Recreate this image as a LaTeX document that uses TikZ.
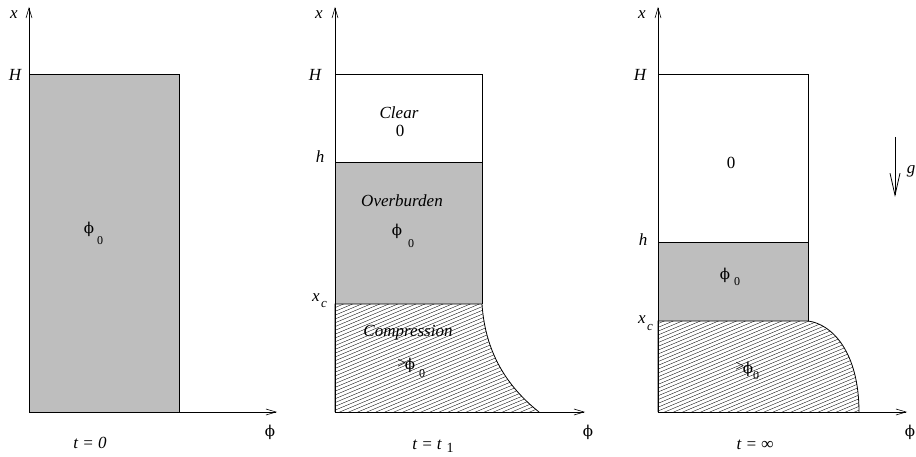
\documentclass[tikz,border=0pt]{standalone}
\usepackage{fontspec}
\setmainfont{Liberation Serif}
\newfontfamily\phifont{DejaVu Serif}
\usetikzlibrary{arrows.meta}
\definecolor{fillgray}{RGB}{190,190,190}
\tikzset{
  lab/.style={inner sep=0pt,font=\fontsize{17}{17}\selectfont\itshape},
  num/.style={inner sep=0pt,font=\fontsize{17}{17}\selectfont},
  phil/.style={inner sep=0pt,font=\fontsize{15}{15}\phifont},
  subl/.style={inner sep=0pt,font=\fontsize{12}{12}\selectfont},
  gtl/.style={inner sep=0pt,font=\fontsize{16}{16}\selectfont},
  axis/.style={line width=0.6pt,-{Straight Barb[length=10pt,width=6pt]}},
  box/.style={line width=0.8pt},
  hatch/.style={line width=0.35pt},
  grav/.style={line width=0.8pt,-{Straight Barb[length=22pt,width=10pt]}}
}
\newcommand{\hatchlines}[2]{%
  \foreach \k in {-5,...,70}{
    \draw[hatch] (#1,{#2+\k*3.8}) -- ({#1+260},{#2+\k*3.8-0.42*260});
  }}
\begin{document}
\begin{tikzpicture}[x=1pt,y=-1pt]
\useasboundingbox (0,0) rectangle (916,457);
%% ---------- panel 1 ----------
\coordinate (o1) at (29,412);
\coordinate (ya1) at (29,7);
\coordinate (xa1) at (277,412);
\coordinate (tr1) at (179,74);
\fill[fillgray] (o1) rectangle (tr1);
\draw[box] (o1) rectangle (tr1);
\draw[axis] (o1) -- (ya1);
\draw[axis] (o1) -- (xa1);
\node[lab] (x1) at (14,15) {x};
\node[lab] (H1) at (15,75) {H};
\node[phil] (p1) at (89,229) {ϕ};
\node[subl] (p1s) at (100,241) {0};
\node[phil] (f1) at (270,432) {ϕ};
\node[lab] (t1) at (90,443) {t = 0};
%% ---------- panel 2 ----------
\coordinate (o2) at (335,412);
\coordinate (ya2) at (335,7);
\coordinate (xa2) at (585,412);
\coordinate (xc2) at (335,304);
\coordinate (xcr2) at (482,304);
\coordinate (h2) at (335,162);
\coordinate (hr2) at (482,162);
\coordinate (Hr2) at (482,74);
\coordinate (Hl2) at (335,74);
\coordinate (cb2) at (539,412);
\fill[fillgray] (xc2) rectangle (hr2);
\begin{scope}
  \clip (o2) -- (xc2) -- (xcr2) .. controls (485,350) and (505,385) .. (cb2) -- cycle;
  \hatchlines{335}{300}
\end{scope}
\draw[box] (o2) -- (xc2) -- (xcr2) .. controls (485,350) and (505,385) .. (cb2);
\draw[box] (xc2) -- (Hl2) -- (Hr2) -- (xcr2);
\draw[box] (h2) -- (hr2);
\draw[axis] (o2) -- (ya2);
\draw[axis] (o2) -- (xa2);
\node[lab] (x2) at (319,15) {x};
\node[lab] (H2) at (315,75) {H};
\node[lab] (hl2) at (320,157) {h};
\node[lab] (xcl2) at (316,298) {x};
\node[lab,font=\fontsize{13}{13}\selectfont\itshape] (xcs2) at (324,305) {c};
\node[lab] (clear) at (399,113) {Clear};
\node[num] (zero2) at (400,131) {0};
\node[lab] (over) at (402,201) {Overburden};
\node[phil] (p2) at (397,231) {ϕ};
\node[subl] (p2s) at (411,244) {0};
\node[lab] (comp) at (408,333) {Compression};
\node[gtl] (gt2) at (402,364) {>};
\node[phil] (p3) at (410,365) {ϕ};
\node[subl] (p3s) at (422,374) {0};
\node[phil] (f2) at (588,432) {ϕ};
\node[lab] (t2) at (427,445) {t = t};
\node[subl,font=\fontsize{14}{14}\selectfont] (t2s) at (450,448) {1};
%% ---------- panel 3 ----------
\coordinate (o3) at (658,412);
\coordinate (ya3) at (658,7);
\coordinate (xa3) at (907,412);
\coordinate (xc3) at (658,321);
\coordinate (xcr3) at (808,321);
\coordinate (h3) at (658,242);
\coordinate (hr3) at (808,242);
\coordinate (Hr3) at (808,74);
\coordinate (Hl3) at (658,74);
\coordinate (cb3) at (859,412);
\fill[fillgray] (xc3) rectangle (hr3);
\begin{scope}
  \clip (o3) -- (xc3) -- (xcr3) .. controls (832,324) and (859,352) .. (cb3) -- cycle;
  \hatchlines{658}{316}
\end{scope}
\draw[box] (o3) -- (xc3) -- (xcr3) .. controls (832,324) and (859,352) .. (cb3);
\draw[box] (xc3) -- (Hl3) -- (Hr3) -- (xcr3);
\draw[box] (h3) -- (hr3);
\draw[axis] (o3) -- (ya3);
\draw[axis] (o3) -- (xa3);
\node[lab] (x3) at (642,15) {x};
\node[lab] (H3) at (640,75) {H};
\node[lab] (hl3) at (643,240) {h};
\node[lab] (xcl3) at (642,320) {x};
\node[lab,font=\fontsize{13}{13}\selectfont\itshape] (xcs3) at (650,327) {c};
\node[num] (zero3) at (731,163) {0};
\node[phil] (p4) at (725,275) {ϕ};
\node[subl] (p4s) at (737,282) {0};
\node[gtl] (gt3) at (740,367) {>};
\node[phil] (p5) at (748,369) {ϕ};
\node[subl] (p5s) at (756,376) {0};
\node[phil] (f3) at (910,432) {ϕ};
\node[lab] (t3) at (755,445) {t = ∞};
\coordinate (g1) at (895,137);
\coordinate (g2) at (895,197);
\draw[grav] (g1) -- (g2);
\node[lab] (gl) at (911,171) {g};
\end{tikzpicture}
\end{document}
